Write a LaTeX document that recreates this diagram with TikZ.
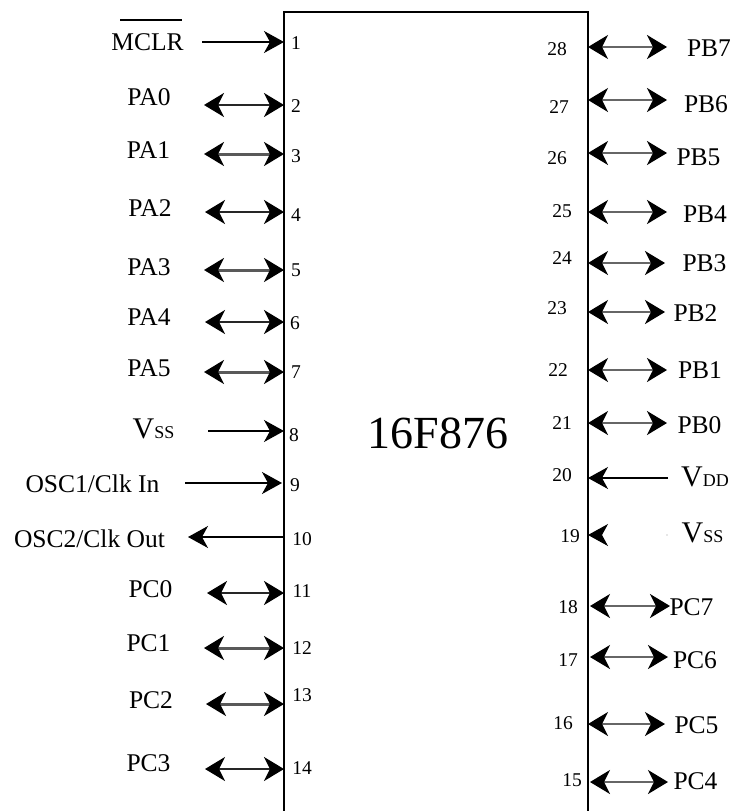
\documentclass[tikz,border=0pt]{standalone}
\usepackage{fontspec}
\setmainfont{Liberation Serif}
\usetikzlibrary{arrows.meta}
\tikzset{
  lbl/.style={inner sep=0pt, font=\fontsize{25.5}{30}\selectfont},
  pinno/.style={inner sep=0pt, font=\fontsize{19.5}{23}\selectfont},
  chipline/.style={line width=2pt},
  tipd/.tip={Stealth[black,length=20pt,width=24pt,inset=6pt]},
  dblk/.style={line width=2.2pt, draw=black!85, tipd-tipd},
  dblg/.style={line width=3pt, draw=black!65, tipd-tipd},
  dblr/.style={line width=2pt, draw=black!60, tipd-tipd},
  sgl/.style={line width=1.4pt, -{Stealth[length=20pt,width=22pt,inset=6pt]}},
  ghost/.style={line width=1pt, draw=white, -{Stealth[black,length=20pt,width=22pt,inset=6pt]}},
}
\newcommand{\bigV}[2]{{\fontsize{30}{36}\selectfont V}{\fontsize{18}{22}\selectfont #1#2}}
\begin{document}
\begin{tikzpicture}[x=1pt,y=-1pt]
\useasboundingbox (0,0) rectangle (732,811);
% chip body
\coordinate (cbl) at (284,811);
\coordinate (ctl) at (284,12);
\coordinate (ctr) at (588,12);
\coordinate (cbr) at (588,811);
\draw[chipline] (cbl) -- (ctl) -- (ctr) -- (cbr);
\node[inner sep=0pt, font=\fontsize{46}{54}\selectfont] (name) at (438,433) {16F876};

% ---------- left side ----------
% pin points on chip edge
\foreach \n/\y in {1/42,2/105,3/154,4/212,5/270,6/322,7/372,8/431,9/483,10/537,11/593,12/648,13/704,14/769}
  \coordinate (p\n) at (284,\y);
\coordinate (p9) at (282,483);
% free ends
\coordinate (e1) at (202,42);
\coordinate (e2) at (204,105);
\coordinate (e3) at (204,154);
\coordinate (e4) at (205,212);
\coordinate (e5) at (204,270);
\coordinate (e6) at (205,322);
\coordinate (e7) at (204,372);
\coordinate (e8) at (208,431);
\coordinate (e9) at (185,483);
\coordinate (e10) at (188,537);
\coordinate (e11) at (207,593);
\coordinate (e12) at (204,648);
\coordinate (e13) at (206,704);
\coordinate (e14) at (205,769);

\draw[sgl] (e1) -- (p1);
\draw[dblk] (e2) -- (p2);
\draw[dblg] (e3) -- (p3);
\draw[dblk] (e4) -- (p4);
\draw[dblg] (e5) -- (p5);
\draw[dblk] (e6) -- (p6);
\draw[dblg] (e7) -- (p7);
\draw[sgl] (e8) -- (p8);
\draw[sgl] (e9) -- (p9);
\draw[sgl] (p10) -- (e10);
\draw[dblk] (e11) -- (p11);
\draw[dblg] (e12) -- (p12);
\draw[dblg] (e13) -- (p13);
\draw[dblk] (e14) -- (p14);

% labels left
\node[lbl] (l1) at (147.5,42.5) {MCLR};
\coordinate (ob1) at (120,20);
\coordinate (ob2) at (182,20);
\draw[line width=1.5pt] (ob1) -- (ob2);
\node[lbl] (l2) at (149,97) {PA0};
\node[lbl] (l3) at (148.5,150) {PA1};
\node[lbl] (l4) at (150,208) {PA2};
\node[lbl] (l5) at (149,267) {PA3};
\node[lbl] (l6) at (149,317) {PA4};
\node[lbl] (l7) at (149,368) {PA5};
\node[inner sep=0pt] (l8) at (153.5,429) {\bigV{S}{S}};
\node[lbl] (l9) at (92.5,484) {OSC1/Clk In};
\node[lbl] (l10) at (89.5,539) {OSC2/Clk Out};
\node[lbl] (l11) at (150.5,589) {PC0};
\node[lbl] (l12) at (148.5,643) {PC1};
\node[lbl] (l13) at (151,700) {PC2};
\node[lbl] (l14) at (148.5,763) {PC3};

% pin numbers left
\node[pinno] (n1) at (296,43) {1};
\node[pinno] (n2) at (296,106) {2};
\node[pinno] (n3) at (296,156) {3};
\node[pinno] (n4) at (296,215) {4};
\node[pinno] (n5) at (296,270) {5};
\node[pinno] (n6) at (295,323) {6};
\node[pinno] (n7) at (296,372) {7};
\node[pinno] (n8) at (294,435) {8};
\node[pinno] (n9) at (295,485) {9};
\node[pinno] (n10) at (302,539) {10};
\node[pinno] (n11) at (302,591) {11};
\node[pinno] (n12) at (302,648) {12};
\node[pinno] (n13) at (302,695) {13};
\node[pinno] (n14) at (302,768) {14};

% ---------- right side ----------
\foreach \n/\y in {28/47,27/100,26/153,25/212,24/263,23/312,22/370,21/423,20/478,19/535,16/724}
  \coordinate (p\n) at (588,\y);
\coordinate (p18) at (590,606);
\coordinate (p17) at (590,657);
\coordinate (p15) at (590,782);
\coordinate (e28) at (667,47);
\coordinate (e27) at (667,100);
\coordinate (e26) at (667,153);
\coordinate (e25) at (667,212);
\coordinate (e24) at (665,263);
\coordinate (e23) at (665,312);
\coordinate (e22) at (667,370);
\coordinate (e21) at (667,423);
\coordinate (e20) at (668,478);
\coordinate (e19) at (667,535);
\coordinate (e18) at (670,606);
\coordinate (e17) at (668,657);
\coordinate (e16) at (665,724);
\coordinate (e15) at (668,782);

\foreach \n in {28,27,26,25,24,23,22,21,18,17,16,15}
  \draw[dblr] (p\n) -- (e\n);
\draw[sgl, line width=1.2pt] (e20) -- (p20);
\draw[ghost] (e19) -- (p19);
\fill[black!40] (e19) circle (0.6pt);

% labels right
\node[lbl] (r28) at (709,48) {PB7};
\node[lbl] (r27) at (706,104) {PB6};
\node[lbl] (r26) at (698.5,157) {PB5};
\node[lbl] (r25) at (705,214) {PB4};
\node[lbl] (r24) at (704.5,263) {PB3};
\node[lbl] (r23) at (695.5,313) {PB2};
\node[lbl] (r22) at (700,370) {PB1};
\node[lbl] (r21) at (699.5,425) {PB0};
\node[inner sep=0pt] (r20) at (705,477) {\bigV{D}{D}};
\node[inner sep=0pt] (r19) at (702.5,533) {\bigV{S}{S}};
\node[lbl] (r18) at (691.5,607) {PC7};
\node[lbl] (r17) at (695,660) {PC6};
\node[lbl] (r16) at (696.5,725) {PC5};
\node[lbl] (r15) at (695.5,781) {PC4};

% pin numbers right
\node[pinno] (n28) at (557,49) {28};
\node[pinno] (n27) at (559,107) {27};
\node[pinno] (n26) at (557,158) {26};
\node[pinno] (n25) at (562,211) {25};
\node[pinno] (n24) at (562,258) {24};
\node[pinno] (n23) at (557,308) {23};
\node[pinno] (n22) at (558,370) {22};
\node[pinno] (n21) at (562,423) {21};
\node[pinno] (n20) at (562,475) {20};
\node[pinno] (n19) at (570,536) {19};
\node[pinno] (n18) at (568,607) {18};
\node[pinno] (n17) at (568,660) {17};
\node[pinno] (n16) at (563,723) {16};
\node[pinno] (n15) at (572,780) {15};
\end{tikzpicture}
\end{document}
